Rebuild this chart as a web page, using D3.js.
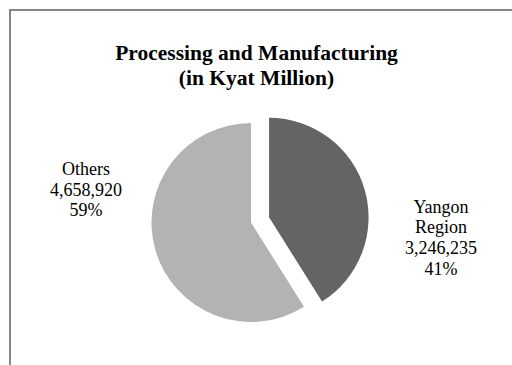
<!DOCTYPE html>
<html>
<head>
<meta charset="utf-8">
<script src="https://cdn.jsdelivr.net/npm/d3@7"></script>
<style>
html,body{margin:0;padding:0;background:#fff;}
svg{display:block;}
text{font-family:"Liberation Serif","Times New Roman",Times,serif;fill:#000;}
</style>
</head>
<body>
<svg id="chart" width="512" height="365"></svg>
<script>
// ---- data ----
const categories = ["Yangon Region", "Others"];
const categoryLines = [["Yangon", "Region"], ["Others"]];
const values = [3246235, 4658920];
const colors = ["#646464", "#b3b3b3"];
const exploded = [true, false];
const titleLines = ["Processing and Manufacturing", "(in Kyat Million)"];

// ---- layout ----
const W = 512, H = 365;
const cx = 251, cy = 222.5, R = 99.5, explodeDist = 18.8;
const labelPos = [{x: 441, y: 212.5, dy: 20.7}, {x: 86, y: 175, dy: 20.7}];

const svg = d3.select("#chart");

// chart area border (extends beyond the visible window)
svg.append("rect")
  .attr("x", 10).attr("y", 10)
  .attr("width", 560).attr("height", 400)
  .attr("fill", "none")
  .attr("stroke", "#868686")
  .attr("stroke-width", 2);

// title
const title = svg.append("text")
  .attr("text-anchor", "middle")
  .attr("font-weight", "bold")
  .attr("font-size", "21.5px");
titleLines.forEach((t, i) => {
  title.append("tspan").attr("x", 256.5).attr("y", 60 + i * 25).text(t);
});

// pie
const total = d3.sum(values);
const data = categories.map((c, i) => ({cat: c, value: values[i], i}));
const pie = d3.pie().sort(null).value(d => d.value).startAngle(0).endAngle(2 * Math.PI);
const arcs = pie(data);
const arc = d3.arc().innerRadius(0).outerRadius(R);

const g = svg.append("g").attr("transform", `translate(${cx},${cy})`);
g.selectAll("path")
  .data(arcs)
  .join("path")
  .attr("d", arc)
  .attr("fill", d => colors[d.data.i])
  .attr("transform", d => {
    if (!exploded[d.data.i]) return null;
    const mid = (d.startAngle + d.endAngle) / 2;
    return `translate(${Math.sin(mid) * explodeDist},${-Math.cos(mid) * explodeDist})`;
  });

// labels
const fmt = d3.format(",");
arcs.forEach(d => {
  const i = d.data.i;
  const pct = Math.round(d.data.value / total * 100) + "%";
  const lines = [...categoryLines[i], fmt(d.data.value), pct];
  const p = labelPos[i];
  const t = svg.append("text")
    .attr("text-anchor", "middle")
    .attr("font-size", "18px");
  lines.forEach((l, k) => {
    t.append("tspan").attr("x", p.x).attr("y", p.y + k * p.dy).text(l);
  });
});
</script>
</body>
</html>
